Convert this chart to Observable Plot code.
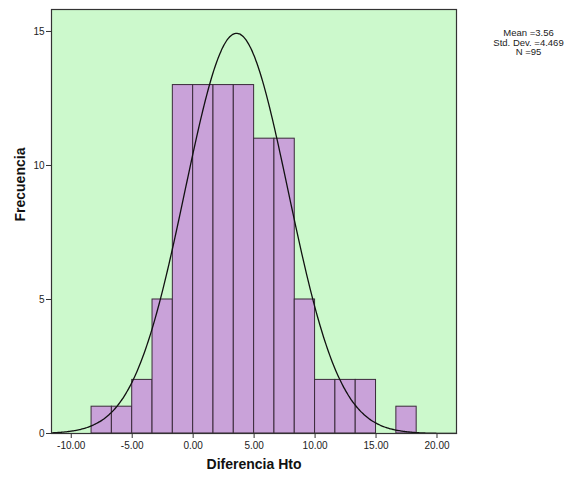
<!DOCTYPE html>
<html>
<head>
<meta charset="utf-8">
<script src="https://cdn.jsdelivr.net/npm/d3@7"></script>
<script src="https://cdn.jsdelivr.net/npm/@observablehq/plot@0.6"></script>
<style>
  html, body { margin: 0; padding: 0; background: #ffffff; }
  svg { display: block; }
</style>
</head>
<body>
<div id="chart"></div>
<script>
// Histogram bins (lower edges / upper edges) and counts
const binLower = [-8.333, -6.667, -5, -3.333, -1.667, 0, 1.667, 3.333, 5, 6.667, 8.333, 10, 11.667, 13.333, 15, 16.667];
const binUpper = [-6.667, -5, -3.333, -1.667, 0, 1.667, 3.333, 5, 6.667, 8.333, 10, 11.667, 13.333, 15, 16.667, 18.333];
const counts   = [1, 1, 2, 5, 13, 13, 13, 13, 11, 11, 5, 2, 2, 2, 0, 1];

// Summary statistics
const mean = 3.56;
const stdDev = 4.469;
const n = 95;
const statsLines = ["Mean =3.56", "Std. Dev. =4.469", "N =95"];

// Tick values
const xTicks = [-10, -5, 0, 5, 10, 15, 20];
const yTicks = [0, 5, 10, 15];

// Fitted normal curve (scaled to the histogram: N × bin width)
const binWidth = 1.6667;
const curveSd = 4.23; // width as drawn in the reference
const curve = d3.range(-11.6, 21.61, 0.1).map(x => ({
  x,
  y: n * binWidth * Math.exp(-((x - mean) ** 2) / (2 * curveSd ** 2)) / (curveSd * Math.sqrt(2 * Math.PI))
}));

const bars = binLower.map((x1, i) => ({x1, x2: binUpper[i], y: counts[i]})).filter(d => d.y > 0);

const font = "'Liberation Sans', Arial, Helvetica, sans-serif";

const chart = Plot.plot({
  width: 567,
  height: 480,
  marginLeft: 51,
  marginRight: 111,
  marginTop: 9,
  marginBottom: 47,
  style: {fontFamily: font, background: "#ffffff", color: "#222"},
  x: {domain: [-11.62, 21.6], label: null},
  y: {domain: [0, 15.82], label: null},
  marks: [
    Plot.frame({fill: "#ccf9cc", stroke: null}),
    Plot.rectY(bars, {x1: "x1", x2: "x2", y: "y", fill: "#c9a2d9", stroke: "#3a2a3a", strokeWidth: 1}),
    Plot.line(curve, {x: "x", y: "y", stroke: "#111", strokeWidth: 1.3, curve: "basis"}),
    Plot.frame({stroke: "#333", strokeWidth: 1.2}),
    Plot.axisX({ticks: xTicks, tickFormat: d => d.toFixed(2), tickSize: 5, fontSize: 10, tickPadding: 3, label: null, stroke: "#333"}),
    Plot.axisY({ticks: yTicks, tickFormat: d => String(d), tickSize: 5, fontSize: 10, tickPadding: 2, label: null, stroke: "#333"}),
    Plot.text(["Diferencia Hto"], {frameAnchor: "bottom", dy: 35, fontSize: 14, fontWeight: "bold", fill: "#111"}),
    Plot.text(["Frecuencia"], {frameAnchor: "left", dx: -31, rotate: -90, fontSize: 14, fontWeight: "bold", fill: "#111"}),
    Plot.text([statsLines.join("\n")], {frameAnchor: "top-right", dx: 72, dy: 33, fontSize: 9.5, lineHeight: 1.0, lineAnchor: "middle", textAnchor: "middle", fill: "#222"})
  ]
});

document.getElementById("chart").appendChild(chart);
</script>
</body>
</html>
